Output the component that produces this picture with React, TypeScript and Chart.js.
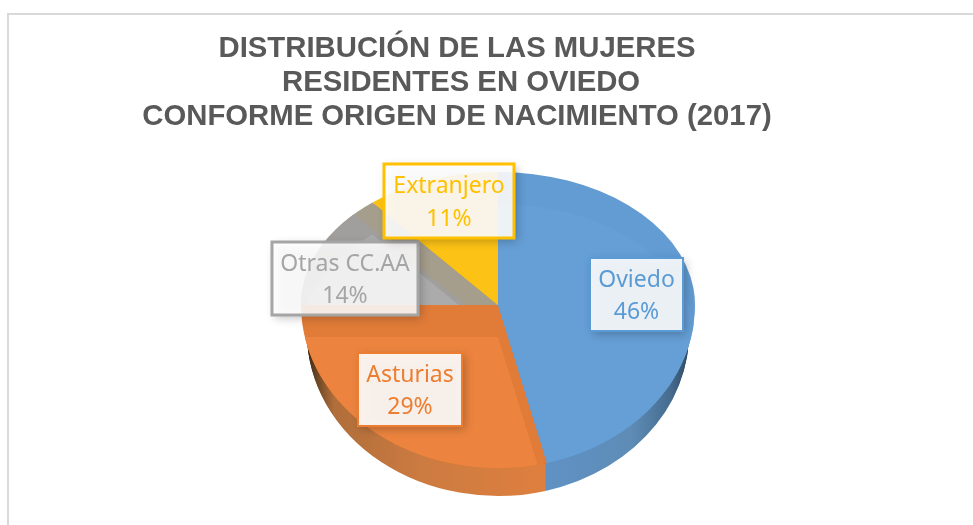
import React, { useEffect, useRef } from "react";
import { Chart, registerables } from "chart.js";

Chart.register(...registerables);

const titleLines = [
  "DISTRIBUCIÓN DE LAS MUJERES",
  " RESIDENTES EN OVIEDO",
  "CONFORME ORIGEN DE NACIMIENTO (2017)",
];
const categories = ["Oviedo", "Asturias", "Otras CC.AA", "Extranjero"];
const values = [46, 29, 14, 11];

const rimColors = ["#629CD3", "#E07B38", "#A09F9E", "#FCC216"];
const topColors = ["#659FD6", "#EC843F", "#ABABAB", "#FCC216"];
const textColors = ["#5B9BD5", "#ED7D31", "#A5A5A5", "#FFC000"];
const boxAlpha = [0.89, 0.9, 0.87, 0.9];
const borderWidths = [2, 2, 3, 3];
// label box centre relative to the pie centre, and box size
const boxCenters = [[138.5, -10.5], [-88, 84.5], [-153, -26.5], [-49, -104]];
const boxSizes = [[93, 73], [104, 73], [146, 73], [130, 74]];

const SQUASH_UP = 133 / 197;
const SQUASH_DOWN = 163 / 197;
const DEPTH = 28;
const RIM = 32;
const WALL_NARROW = 0.97;

function piecewise(ctx: any, arc: any, off: number, drawFn: () => void) {
  const { x: cx, y: cy } = arc;
  const w = ctx.canvas.width;
  const h = ctx.canvas.height;
  ctx.save();
  ctx.beginPath();
  ctx.rect(0, 0, w, cy + off + 0.5);
  ctx.clip();
  ctx.translate(cx, cy + off);
  ctx.scale(1, SQUASH_UP);
  ctx.translate(-cx, -cy);
  drawFn();
  ctx.restore();
  ctx.save();
  ctx.beginPath();
  ctx.rect(0, cy + off, w, h);
  ctx.clip();
  ctx.translate(cx, cy + off);
  ctx.scale(1, SQUASH_DOWN);
  ctx.translate(-cx, -cy);
  drawFn();
  ctx.restore();
}

function plainOptions(fill: any) {
  return {
    backgroundColor: fill,
    borderColor: fill,
    borderWidth: 0,
    borderAlign: "center",
    borderJoinStyle: "round",
    borderRadius: 0,
    borderDash: [],
    borderDashOffset: 0,
    offset: 0,
    spacing: 0,
    circular: true,
  };
}

function drawArcWith(ctx: any, arc: any, fill: any) {
  const saved = arc.options;
  arc.options = plainOptions(fill);
  arc.draw(ctx);
  arc.options = saved;
}

function clipToSlice(ctx: any, arc: any) {
  const R = arc.outerRadius;
  const steps = 120;
  ctx.beginPath();
  ctx.moveTo(arc.x, arc.y);
  for (let s = 0; s <= steps; s++) {
    const a = arc.startAngle + ((arc.endAngle - arc.startAngle) * s) / steps;
    const py = Math.sin(a) * R;
    ctx.lineTo(arc.x + Math.cos(a) * R, arc.y + py * (py < 0 ? SQUASH_UP : SQUASH_DOWN));
  }
  ctx.closePath();
  ctx.clip();
}

const pie3d = {
  id: "pie3d",
  beforeDraw(chart: any) {
    const { ctx, width, height } = chart;
    ctx.save();
    ctx.fillStyle = "#ffffff";
    ctx.fillRect(0, 0, width, height);
    ctx.fillStyle = "#D9D9D9";
    ctx.fillRect(7, 13, width, 2);
    ctx.fillRect(7, 13, 2, height);
    ctx.restore();
  },
  afterLayout(chart: any) {
    chart.titleBlock.right -= 82;
  },
  beforeDatasetDraw(chart: any) {
    const ctx = chart.ctx;
    const arcs = chart.getDatasetMeta(0).data;
    const { x: cx, outerRadius: R } = arcs[0];
    const g = (stops: [number, string][]) => {
      const lg = ctx.createLinearGradient(cx - R, 0, cx + R, 0);
      stops.forEach(([p, c]) => lg.addColorStop(p, c));
      return lg;
    };
    const wallFills = [
      g([[0, "#6E94BA"], [0.6, "#6092C6"], [0.85, "#5E8CB6"], [0.95, "#466C90"], [1, "#2F4A64"]]),
      g([[0, "#3A2614"], [0.025, "#6A4424"], [0.07, "#B06E3A"], [0.3, "#CC7B41"], [0.62, "#DE7F3E"], [1, "#DE7F3E"]]),
      g([[0, "#808080"], [1, "#808080"]]),
      g([[0, "#C09010"], [1, "#C09010"]]),
    ];
    // side wall
    for (let d = DEPTH; d >= 1; d--) {
      arcs.forEach((arc: any, i: number) => {
        piecewise(ctx, arc, 0, () => {
          ctx.translate(0, d / SQUASH_DOWN);
          ctx.translate(cx, 0);
          ctx.scale(WALL_NARROW, 1);
          ctx.translate(-cx, 0);
          drawArcWith(ctx, arc, wallFills[i]);
        });
      });
    }
    // top surface, rim tone
    arcs.forEach((arc: any, i: number) => {
      piecewise(ctx, arc, 0, () => drawArcWith(ctx, arc, i === 2 ? "#A69E8C" : rimColors[i]));
      if (i === 2) {
        ctx.save();
        clipToSlice(ctx, arc);
        ctx.translate(-33, 0);
        piecewise(ctx, arc, 0, () => drawArcWith(ctx, arc, rimColors[i]));
        ctx.restore();
      }
    });
    // inner surface, lighter, shifted and clipped to its slice
    arcs.forEach((arc: any, i: number) => {
      ctx.save();
      clipToSlice(ctx, arc);
      piecewise(ctx, arc, RIM, () => drawArcWith(ctx, arc, topColors[i]));
      ctx.restore();
    });
    return false;
  },
  afterDatasetsDraw(chart: any) {
    const ctx = chart.ctx;
    const { x: cx, y: cy } = chart.getDatasetMeta(0).data[0];
    categories.forEach((name, i) => {
      const [dx, dy] = boxCenters[i];
      const [bw, bh] = boxSizes[i];
      const l = cx + dx - bw / 2;
      const t = cy + dy - bh / 2;
      ctx.save();
      ctx.shadowColor = "rgba(0,0,0,0.28)";
      ctx.shadowBlur = 9;
      ctx.shadowOffsetX = 3;
      ctx.shadowOffsetY = 3;
      ctx.fillStyle = `rgba(255,255,255,${boxAlpha[i]})`;
      ctx.fillRect(l, t, bw, bh);
      ctx.restore();
      ctx.save();
      ctx.strokeStyle = textColors[i];
      ctx.lineWidth = borderWidths[i];
      ctx.strokeRect(l, t, bw, bh);
      ctx.fillStyle = textColors[i];
      ctx.font = '23px "Noto Sans"';
      ctx.textAlign = "center";
      ctx.textBaseline = "middle";
      ctx.fillText(name, cx + dx, cy + dy - 14.5);
      ctx.fillText(`${values[i]}%`, cx + dx, cy + dy + 18);
      ctx.restore();
    });
  },
};

export default function App() {
  const ref = useRef<HTMLCanvasElement | null>(null);
  useEffect(() => {
    const chart = new Chart(ref.current as HTMLCanvasElement, {
      type: "pie",
      data: {
        labels: categories,
        datasets: [{ data: values, backgroundColor: topColors, borderWidth: 0 }],
      },
      options: {
        responsive: false,
        animation: false,
        layout: { padding: { left: 23, right: 0, top: 0, bottom: 23 } },
        plugins: {
          legend: { display: false },
          tooltip: { enabled: false },
          title: {
            display: true,
            text: titleLines,
            color: "#595959",
            font: { family: '"Liberation Sans"', size: 29.3, weight: "bold", lineHeight: 34 / 29.3 },
            padding: { top: 32, bottom: -26 },
          },
        },
      },
      plugins: [pie3d],
    } as any);
    return () => chart.destroy();
  }, []);
  return (
    <div style={{ position: "absolute", left: 0, top: 0, width: 973, height: 525 }}>
      <canvas ref={ref} width={973} height={525} style={{ display: "block" }} />
    </div>
  );
}
